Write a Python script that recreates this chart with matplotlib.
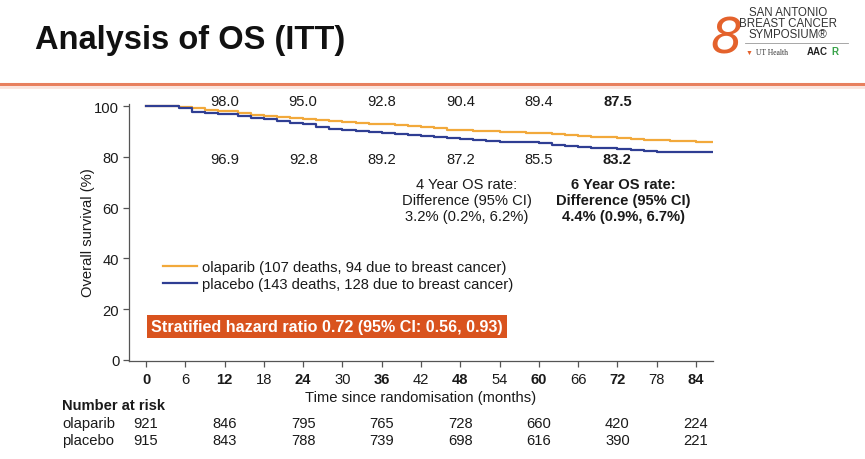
import matplotlib
matplotlib.use("Agg")
import matplotlib.pyplot as plt
from matplotlib.transforms import blended_transform_factory
from matplotlib.lines import Line2D

plt.rcParams['font.family'] = ['Liberation Sans', 'DejaVu Sans']

# ---- data ----
ola_t = [0, 3, 5, 7, 9, 11, 12, 14, 16, 18, 20, 22, 24, 26, 28, 30, 32, 34, 36,
         38, 40, 42, 44, 46, 48, 50, 52, 54, 56, 58, 60, 62, 64, 66, 68, 70, 72,
         74, 76, 78, 80, 82, 84, 86.5]
ola_s = [100, 100, 99.6, 99.3, 98.6, 98.2, 98.0, 97.2, 96.6, 96.2, 95.8, 95.4, 95.0,
         94.5, 94.0, 93.6, 93.2, 93.0, 92.8, 92.5, 92.2, 91.8, 91.2, 90.7, 90.4,
         90.2, 90.0, 89.8, 89.6, 89.5, 89.4, 89.0, 88.6, 88.2, 87.9, 87.7, 87.5,
         87.2, 86.8, 86.5, 86.4, 86.3, 86.0, 85.8]
pla_t = [0, 3, 5, 7, 9, 11, 12, 14, 16, 18, 20, 22, 24, 26, 28, 30, 32, 34, 36,
         38, 40, 42, 44, 46, 48, 50, 52, 54, 56, 58, 60, 62, 64, 66, 68, 70, 72,
         74, 76, 78, 86.5]
pla_s = [100, 100, 99.2, 97.8, 97.4, 97.0, 96.9, 96.0, 95.4, 94.8, 94.0, 93.3, 92.8,
         91.8, 91.0, 90.6, 90.2, 89.6, 89.2, 88.8, 88.5, 88.2, 87.8, 87.5, 87.2,
         86.8, 86.4, 86.0, 85.9, 85.7, 85.5, 84.8, 84.2, 83.8, 83.5, 83.3, 83.2,
         82.8, 82.3, 82.0, 82.0]

rate_months = [12, 24, 36, 48, 60, 72]
ola_rates = ["98.0", "95.0", "92.8", "90.4", "89.4", "87.5"]
pla_rates = ["96.9", "92.8", "89.2", "87.2", "85.5", "83.2"]

risk_months = [0, 12, 24, 36, 48, 60, 72, 84]
ola_risk = [921, 846, 795, 765, 728, 660, 420, 224]
pla_risk = [915, 843, 788, 739, 698, 616, 390, 221]

xticks = list(range(0, 85, 6))
yticks = [0, 20, 40, 60, 80, 100]

ola_label = "olaparib (107 deaths, 94 due to breast cancer)"
pla_label = "placebo (143 deaths, 128 due to breast cancer)"
hr_text = "Stratified hazard ratio 0.72 (95% CI: 0.56, 0.93)"

ORANGE = '#F2A93B'
BLUE = '#2F3E93'
TXT = '#1a1a1a'
FS = 10.6

W, H = 865, 460
fig = plt.figure(figsize=(W / 100, H / 100), dpi=100)

def fx(px):
    return px / W

def fy(py):
    return 1 - py / H

# title and header
fig.text(fx(35), fy(49), "Analysis of OS (ITT)", fontsize=23.5, fontweight='bold',
         color='#111111', va='baseline', ha='left')
fig.add_artist(Line2D([0, 1], [fy(85), fy(85)], color='#E8805E', lw=2.2))
fig.add_artist(Line2D([0, 1], [fy(88), fy(88)], color='#FBE3DC', lw=2))

# logo approximation
fig.text(fx(726), fy(39), "8", fontsize=36, color='#E4622C', ha='center', va='center',
         style='italic', fontweight='light', family=['DejaVu Sans'])
fig.text(fx(788), fy(24), "SAN ANTONIO\nBREAST CANCER\nSYMPOSIUM\u00ae", fontsize=8.3,
         color='#333333', ha='center', va='center', linespacing=0.88,
         family=['Liberation Sans Narrow', 'Liberation Sans'])
fig.add_artist(Line2D([fx(745), fx(848)], [fy(44), fy(44)], color='#999999', lw=0.6))
fig.text(fx(756), fy(53), "UT Health", fontsize=5.5, color='#333333', ha='left',
         va='center', family=['Liberation Serif', 'DejaVu Serif'])
fig.text(fx(749), fy(53), "\u25BC", fontsize=5, color='#E4622C', ha='center', va='center')
fig.text(fx(807), fy(52), "AAC", fontsize=7, color='#222222', ha='left', va='center',
         fontweight='bold')
fig.text(fx(831), fy(52), "R", fontsize=7, color='#3aa34a', ha='left', va='center',
         fontweight='bold')

# main axes
ax = fig.add_axes([fx(129), fy(362), fx(713) - fx(129), (362 - 104.5) / H])
ax.step(ola_t, ola_s, where='post', color=ORANGE, lw=1.6, label=ola_label)
ax.step(pla_t, pla_s, where='post', color=BLUE, lw=1.6, label=pla_label)
ax.set_xlim(-2.6, 86.6)
ax.set_ylim(-0.4, 101)
for s in ['top', 'right']:
    ax.spines[s].set_visible(False)
for s in ['left', 'bottom']:
    ax.spines[s].set_color('#555555')
    ax.spines[s].set_linewidth(0.9)
ax.set_yticks(yticks)
ax.set_yticklabels([str(v) for v in yticks], fontsize=FS, color=TXT)
ax.set_xticks(xticks)
ax.set_xticklabels([str(v) for v in xticks], fontsize=FS, color=TXT)
for lab, v in zip(ax.get_xticklabels(), xticks):
    if v % 12 == 0:
        lab.set_fontweight('bold')
ax.tick_params(axis='both', length=4, width=0.9, color='#555555')
ax.tick_params(axis='x', pad=4)
ax.tick_params(axis='y', pad=3)

ax.set_xlabel("Time since randomisation (months)", fontsize=FS, color=TXT, labelpad=3)
fig.text(fx(88), fy(233), "Overall survival (%)", rotation=90, fontsize=FS,
         color=TXT, ha='center', va='center')

# rate labels
for m, a, b in zip(rate_months, ola_rates, pla_rates):
    w = 'bold' if m == 72 else 'normal'
    ax.text(m, 102.0, a, ha='center', va='center', fontsize=FS, color=TXT,
            fontweight=w, clip_on=False)
    ax.text(m, 79.3, b, ha='center', va='center', fontsize=FS, color=TXT,
            fontweight=w)

ax.text(49.0, 63, "4 Year OS rate:\nDifference (95% CI)\n3.2% (0.2%, 6.2%)",
        ha='center', va='center', fontsize=FS, color=TXT, linespacing=1.22)
ax.text(72.9, 63, "6 Year OS rate:\nDifference (95% CI)\n4.4% (0.9%, 6.7%)",
        ha='center', va='center', fontsize=FS, color=TXT, linespacing=1.22,
        fontweight='bold')

leg = ax.legend(loc='upper left', bbox_to_anchor=(fx(163), fy(261)),
                bbox_transform=fig.transFigure, frameon=False, fontsize=FS,
                handlelength=2.3, handletextpad=0.35, labelspacing=0.2,
                borderpad=0, borderaxespad=0)
for t in leg.get_texts():
    t.set_color(TXT)

ax.text(0.75, 13, hr_text, ha='left', va='center', fontsize=11.6, color='white',
        fontweight='bold',
        bbox=dict(boxstyle='square,pad=0.25', facecolor='#D9531E', edgecolor='none'))

# number at risk table
tr = blended_transform_factory(ax.transData, fig.transFigure)
fig.text(fx(62), fy(406), "Number at risk", fontsize=FS, fontweight='bold',
         color=TXT, ha='left', va='center')
fig.text(fx(62), fy(424), "olaparib", fontsize=FS, color=TXT, ha='left', va='center')
fig.text(fx(62), fy(441), "placebo", fontsize=FS, color=TXT, ha='left', va='center')
for m, a, b in zip(risk_months, ola_risk, pla_risk):
    ax.text(m, fy(424), str(a), transform=tr, ha='center', va='center',
            fontsize=FS, color=TXT, clip_on=False)
    ax.text(m, fy(441), str(b), transform=tr, ha='center', va='center',
            fontsize=FS, color=TXT, clip_on=False)

fig.savefig("out.png", dpi=100, facecolor='white')
